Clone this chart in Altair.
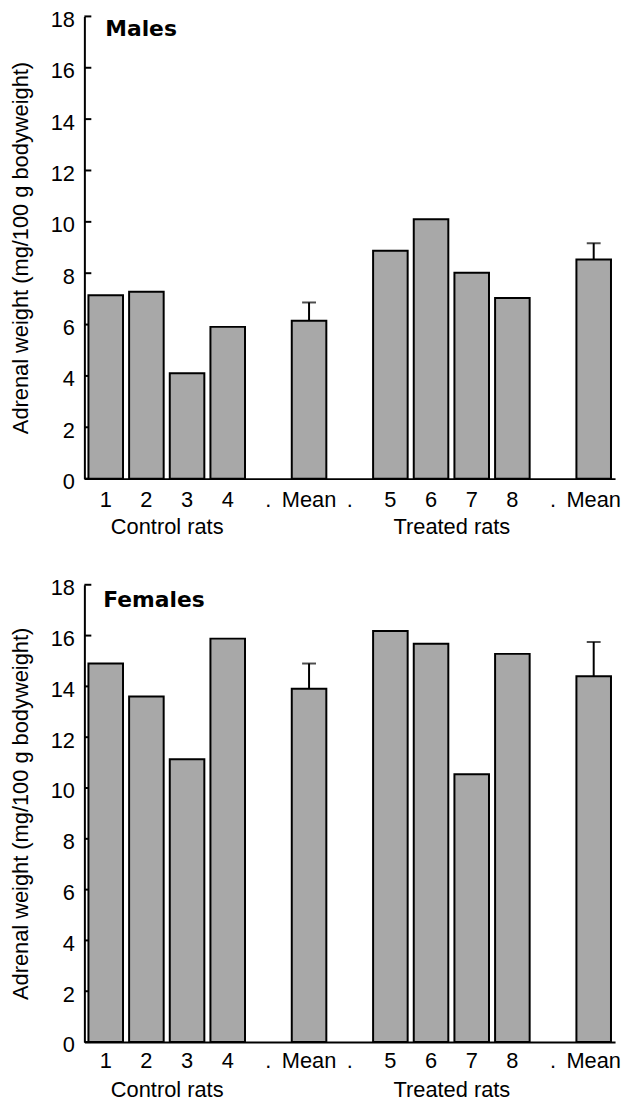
import altair as alt
import pandas as pd

# ---- data -----------------------------------------------------------
slots = ["s1", "s2", "s3", "s4", "g1", "m1", "g2", "s5", "s6", "s7", "s8", "g3", "m2"]
slot_labels = ["1", "2", "3", "4", ".", "Mean", ".", "5", "6", "7", "8", ".", "Mean"]

male_values = [7.14, 7.28, 4.10, 5.91, None, 6.15, None, 8.87, 10.10, 8.02, 7.03, None, 8.53]
male_err_top = [None, None, None, None, None, 6.86, None, None, None, None, None, None, 9.17]

female_values = [14.90, 13.60, 11.13, 15.88, None, 13.91, None, 16.18, 15.68, 10.54, 15.28, None, 14.40]
female_err_top = [None, None, None, None, None, 14.90, None, None, None, None, None, None, 15.75]

y_ticks = [0, 2, 4, 6, 8, 10, 12, 14, 16, 18]
groups = ["Control rats", "Treated rats"]
group_anchor = ["s2", "s6"]

y_title = "Adrenal weight (mg/100 g bodyweight)"
FONT = "Liberation Sans"
BAR_FILL = "#a8a8a8"
W = 535


def panel(name, values, errs, height, name_x, name_y, group_y, x_pad):
    df = pd.DataFrame({"slot": slots, "v": values, "err": errs})
    label_expr = "[" + ",".join("'%s'" % s for s in slot_labels) + "][indexof([" + \
        ",".join("'%s'" % s for s in slots) + "], datum.value)]"
    xscale = alt.Scale(domain=slots, paddingInner=0.15, paddingOuter=0.1)
    xaxis = alt.Axis(
        title=None, labelExpr=label_expr, labelAngle=0, ticks=False,
        domain=True, domainColor="black", domainWidth=2,
        labelFont=FONT, labelFontSize=22, labelColor="black",
        labelPadding=x_pad, labelOverlap=False, grid=False,
    )
    yscale = alt.Scale(domain=[0, 18], nice=False, zero=True)
    yaxis = alt.Axis(
        title=y_title, values=y_ticks, ticks=False, grid=False,
        domain=True, domainColor="black", domainWidth=2,
        labelFont=FONT, labelFontSize=22, labelColor="black", labelPadding=10,
        labelOffset=3,
        titleFont=FONT, titleFontSize=22, titleFontWeight="normal",
        titleColor="black", titlePadding=18,
    )
    X = alt.X("slot:N", scale=xscale, axis=xaxis)

    ticks = alt.Chart(pd.DataFrame({"t": y_ticks})).mark_rule(
        color="black", strokeWidth=2
    ).encode(x=alt.value(0), x2=alt.value(7), y=alt.Y("t:Q", scale=yscale, axis=yaxis))

    bars = alt.Chart(df).transform_filter("isValid(datum.v)").mark_bar(
        fill=BAR_FILL, stroke="black", strokeWidth=2
    ).encode(x=X, y=alt.Y("v:Q", scale=yscale, axis=yaxis))

    err = alt.Chart(df).transform_filter("isValid(datum.err)").mark_rule(
        color="black", strokeWidth=2
    ).encode(x=X, y=alt.Y("v:Q", scale=yscale, axis=yaxis), y2="err:Q")

    caps = alt.Chart(df).transform_filter("isValid(datum.err)").mark_tick(
        color="black", thickness=2, size=14
    ).encode(x=X, y=alt.Y("err:Q", scale=yscale, axis=yaxis))

    gdf = pd.DataFrame({"slot": group_anchor, "g": groups})
    glabels = alt.Chart(gdf).mark_text(
        font=FONT, fontSize=22, color="black", baseline="alphabetic", align="center", dx=21
    ).encode(x=X, y=alt.value(height + group_y), text="g:N")

    title = alt.Chart(pd.DataFrame({"t": [name]})).mark_text(
        font="DejaVu Sans", fontWeight="bold", fontSize=22, color="black",
        align="left", baseline="alphabetic"
    ).encode(x=alt.value(name_x), y=alt.value(name_y), text="t:N")

    return alt.layer(ticks, bars, err, caps, glabels, title).properties(width=W, height=height)


top = panel("Males", male_values, male_err_top, 466, 21, 20, 56, 11)
bottom = panel("Females", female_values, female_err_top, 461, 19, 22, 55, 9)

chart = alt.vconcat(top, bottom, spacing=39).properties(
    padding={"left": 1, "top": -4, "right": 0, "bottom": 0}
).configure_view(stroke=None)

chart.save("out.html", embed_options={"renderer": "svg", "actions": False})
